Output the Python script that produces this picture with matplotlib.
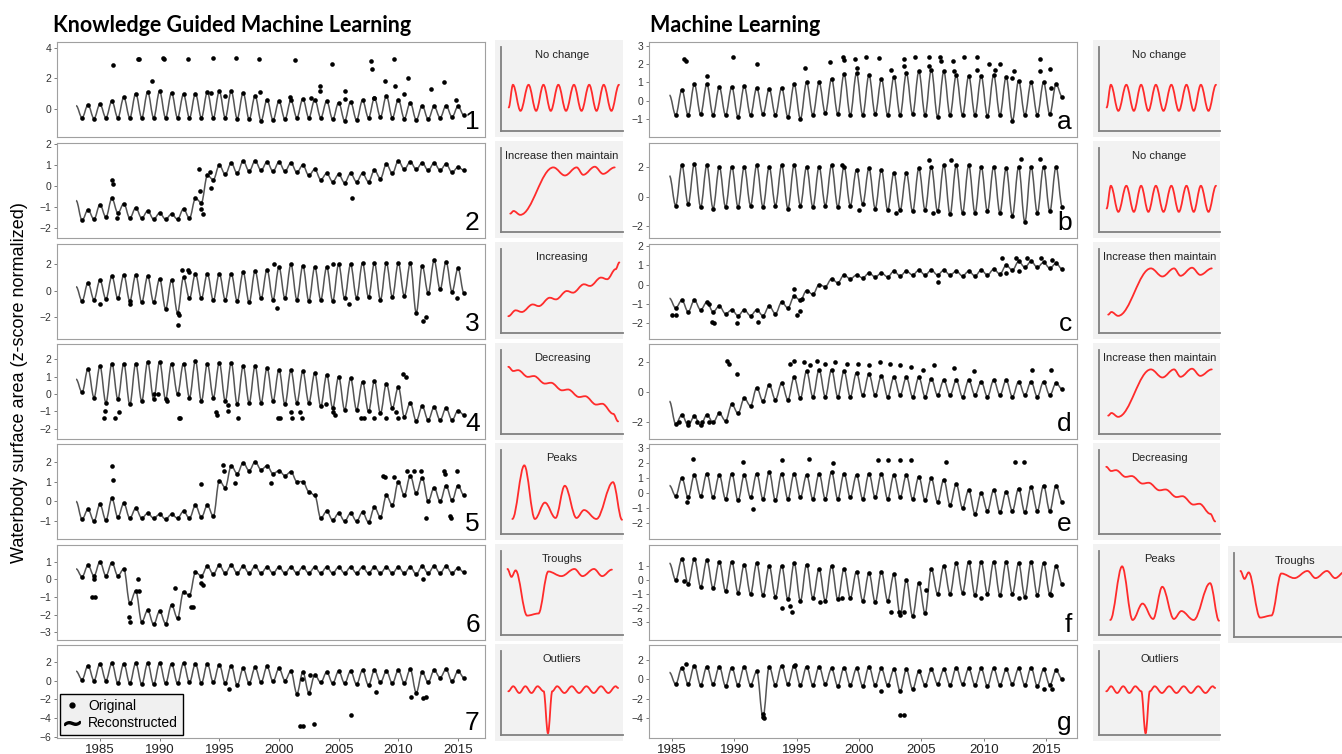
import numpy as np
import matplotlib
matplotlib.use('Agg')
import matplotlib.pyplot as plt
from matplotlib.path import Path
from matplotlib.patches import PathPatch
from matplotlib.lines import Line2D

plt.rcParams['font.family'] = ['Liberation Sans', 'DejaVu Sans']

# ---- data: seasonal highs / lows per year, plus extra observations ----
# left column (knowledge guided): highs at 1983.0 + k, lows at 1983.5 + k
hi_1 = [0.2, 0.25, 0.3, 0.5, 0.75, 1.0, 1.1, 1.15, 1.05, 0.95, 1.0, 1.1, 1.15, 1.15, 1.05, 0.85, 0.6,
        0.5, 0.55, 0.65, 0.6, 0.5, 0.4, 0.45, 0.55, 0.7, 0.85, 0.6, 0.4, 0.2, 0.15, 0.2, 0.15]
lo_1 = [-0.6, -0.65, -0.6, -0.6, -0.6, -0.6, -0.6, -0.6, -0.6, -0.6, -0.6, -0.6, -0.6, -0.65, -0.7, -0.8,
        -0.75, -0.7, -0.6, -0.6, -0.6, -0.7, -0.8, -0.75, -0.6, -0.55, -0.6, -0.65, -0.75, -0.7, -0.6, -0.55, -0.45]
out_1 = [(1986.1, 2.85), (1988.2, 3.3), (1988.3, 3.25), (1989.4, 1.8), (1990.3, 3.35), (1990.4, 3.3),
         (1992.4, 3.25), (1994.5, 3.35), (1996.4, 3.35), (1998.3, 3.3), (2001.3, 3.2), (2003.4, 1.5),
         (2003.4, 1.15), (2004.4, 2.95), (2005.5, 1.15), (2005.5, 0.65), (2007.7, 3.15), (2007.8, 2.6),
         (2008.9, 1.85), (2009.6, 3.3), (2009.7, 1.5), (2010.8, 2.05), (2012.7, 1.3), (2013.8, 1.75),
         (2014.8, 0.6), (1994.3, 1.05), (1995.5, 0.85), (1998.4, 1.1), (2000.9, 0.8), (2002.7, 0.7),
         (2008.0, 0.7), (2010.5, 1.0)]

hi_2 = [-0.7, -1.15, -0.9, -0.6, -0.85, -1.05, -1.2, -1.3, -1.35, -1.1, -0.6, 0.5, 1.0, 1.1, 1.2, 1.2, 1.15,
        1.15, 1.1, 1.0, 0.8, 0.6, 0.55, 0.6, 0.6, 0.75, 1.05, 1.2, 1.15, 1.1, 1.1, 1.05, 0.9]
lo_2 = [-1.65, -1.6, -1.5, -1.3, -1.55, -1.55, -1.6, -1.6, -1.6, -1.55, -0.8, 0.3, 0.55, 0.6, 0.7, 0.75, 0.7,
        0.7, 0.65, 0.5, 0.3, 0.2, 0.15, 0.2, 0.2, 0.35, 0.6, 0.8, 0.8, 0.75, 0.75, 0.65, 0.75]
out_2 = [(1986.0, 0.3), (1986.1, 0.1), (1986.4, -1.55), (1993.3, 0.8), (1993.4, -0.25), (1993.5, -1.1),
         (1993.6, -1.35), (1994.2, 0.65), (1994.3, -0.1), (2006.1, -0.6)]

hi_3 = [0.3, 0.6, 0.8, 1.1, 1.2, 1.2, 1.1, 0.9, 0.8, 1.0, 1.3, 1.3, 1.3, 1.3, 1.4, 1.5, 1.6, 1.8, 2.0,
        1.9, 1.8, 1.8, 2.0, 2.0, 2.1, 2.1, 2.1, 2.1, 2.1, 1.9, 2.3, 2.2, 1.7]
lo_3 = [-0.8, -0.7, -0.65, -0.6, -0.8, -0.9, -0.9, -1.4, -1.7, -0.6, -0.6, -0.75, -0.7, -0.8, -0.9, -0.6,
        -0.7, -0.6, -0.7, -0.8, -0.7, -0.8, -0.6, -0.55, -0.5, -0.7, -0.5, -0.4, -1.7, -0.2, 0.1, -0.1, -0.2]
out_3 = [(1991.5, -2.6), (1991.6, -1.9), (1991.9, 1.6), (1992.4, 1.6), (1992.5, 1.4), (2012.1, -2.3),
         (2012.3, -2.0), (2014.9, -0.6), (1999.8, -1.3), (1999.6, 2.05), (2004.5, 2.0), (1985.0, -1.0),
         (1987.5, -1.05), (2005.9, -1.0)]

hi_4 = [0.85, 1.45, 1.6, 1.75, 1.75, 1.75, 1.85, 1.85, 1.75, 1.75, 1.9, 1.75, 1.8, 1.8, 1.6, 1.6, 1.5,
        1.4, 1.35, 1.3, 1.2, 1.1, 1.0, 0.9, 0.7, 0.75, 0.6, 0.4, -0.5, -0.7, -0.75, -0.8, -0.95]
lo_4 = [0.1, -0.2, -0.5, -0.3, -0.6, -0.4, -0.3, -0.3, 0.0, -0.2, -0.4, -0.2, -0.4, -0.6, -0.5, -0.5,
        -0.4, -0.6, -0.5, -0.5, -0.7, -0.8, -0.9, -0.9, -1.0, -1.1, -0.8, -1.3, -1.55, -1.5, -1.5, -1.5, -1.2]
out_4 = [(1985.3, -1.38), (1985.4, -1.0), (1986.3, -1.38), (1986.6, -1.05), (1991.6, -1.38), (1991.7, -1.38),
         (1994.7, -1.05), (1994.8, -1.18), (1995.7, -0.65), (1995.7, -0.98), (1996.6, -1.38), (1999.9, -1.38),
         (2000.1, -1.38), (2001.0, -1.05), (2001.1, -1.38), (2001.8, -1.05), (2001.9, -1.38), (2004.5, -1.05),
         (2004.7, -1.18), (2006.9, -1.38), (2007.1, -1.38), (2008.0, -1.38), (2009.0, -1.38), (2009.8, -1.05),
         (2010.0, -1.38), (2010.4, 1.15), (2010.6, 1.0), (2003.9, -0.55), (1990.6, -0.4), (1989.5, 0.0),
         (1989.9, 0.0)]

hi_5 = [0.0, -0.4, -0.15, 0.15, -0.1, -0.35, -0.6, -0.65, -0.65, -0.5, -0.2, -0.2, 1.05, 1.8, 1.95, 2.0,
        1.8, 1.55, 1.5, 1.0, 0.3, -0.5, -0.6, -0.6, -0.55, -0.3, 0.3, 1.0, 1.3, 1.2, 0.7, 0.8, 0.8]
lo_5 = [-0.9, -1.0, -0.95, -0.8, -0.85, -0.85, -0.85, -0.9, -0.85, -0.85, -0.8, -0.75, 0.7, 1.4, 1.55, 1.6,
        1.4, 1.3, 1.0, 0.5, -0.85, -0.95, -1.0, -1.0, -1.05, -0.8, -0.2, 0.3, 0.4, 0.0, 0.0, 0.05, 0.3]
out_5 = [(1986.0, 1.78), (1986.1, 1.1), (1993.5, 0.9), (1995.3, 1.85), (1995.4, 1.55), (2008.7, 1.3),
         (2008.9, 1.25), (2009.6, 1.25), (2010.7, 1.55), (2011.3, 1.55), (2011.9, 1.55), (2012.3, -0.83),
         (2013.8, 1.55), (2013.9, 1.4), (2014.3, -0.75), (2014.4, -0.83), (2014.9, 1.55), (1996.3, 0.95),
         (1999.3, 0.95)]

hi_6 = [0.6, 0.8, 1.0, 0.95, 0.6, -0.65, -1.75, -1.8, -1.45, -0.7, 0.4, 0.75, 0.8, 0.8, 0.75, 0.75, 0.7,
        0.7, 0.7, 0.7, 0.7, 0.7, 0.7, 0.7, 0.7, 0.7, 0.7, 0.7, 0.7, 0.75, 0.75, 0.75, 0.65]
lo_6 = [0.15, 0.2, 0.2, 0.2, -1.35, -2.4, -2.55, -2.5, -2.2, -0.9, 0.2, 0.3, 0.35, 0.35, 0.35, 0.35, 0.35,
        0.35, 0.35, 0.35, 0.35, 0.35, 0.35, 0.35, 0.35, 0.35, 0.35, 0.35, 0.3, 0.35, 0.35, 0.35, 0.4]
out_6 = [(1984.3, -1.0), (1984.6, -1.0), (1987.4, -2.15), (1987.5, -2.4), (1988.2, 0.0), (1988.3, -0.65),
         (1991.3, -0.5), (1992.6, -1.55), (1992.8, -1.55), (1993.5, -0.2), (1993.6, -0.3), (2012.1, 0.05),
         (1984.5, 0.0)]

hi_7 = [1.0, 1.6, 1.8, 1.85, 1.8, 1.85, 1.85, 1.85, 1.8, 1.85, 1.8, 1.8, 1.7, 1.6, 1.3, 1.4, 1.5, 1.3,
        1.0, 0.9, 0.6, 0.9, 1.0, 1.0, 1.1, 1.1, 1.0, 1.1, 1.2, 0.9, 1.1, 1.2, 1.0]
lo_7 = [0.1, 0.0, 0.0, -0.3, -0.3, -0.4, -0.4, -0.3, -0.3, -0.2, -0.3, -0.2, -0.3, -0.5, -0.3, -0.2, -0.1,
        0.0, -1.4, -1.3, -0.2, -0.3, -0.3, -0.4, -0.5, -0.2, -0.3, -0.3, -1.3, -0.2, 0.3, -0.1, 0.3]
out_7 = [(2001.8, -4.85), (2002.0, -4.85), (2002.9, -4.6), (2006.0, -3.7), (2008.1, -1.2), (2011.1, -1.75),
         (2012.1, -1.9), (2012.3, -1.8), (1995.8, -0.9), (2002.6, 0.55), (2001.9, 0.2)]

# right column (machine learning): highs at 1984.8 + k, lows at 1985.3 + k
hi_a = [0.3, 0.6, 0.9, 0.9, 0.75, 0.75, 0.8, 0.7, 0.65, 0.7, 0.9, 1.0, 1.0, 1.2, 1.45, 1.5, 1.4, 1.2,
        1.3, 1.5, 1.6, 1.7, 1.6, 1.4, 1.35, 1.35, 1.4, 1.3, 1.1, 1.0, 1.0, 0.9]
lo_a = [-0.8, -0.8, -0.75, -0.8, -0.8, -0.9, -0.8, -0.75, -0.8, -0.9, -1.0, -0.8, -0.7, -0.75, -0.8, -0.8,
        -0.75, -0.8, -0.8, -0.75, -0.8, -0.9, -0.8, -0.8, -0.8, -0.85, -0.8, -1.1, -0.8, -0.8, -0.75, 0.2]
out_a = [(1986.0, 2.3), (1986.1, 2.15), (1987.8, 1.35), (1989.9, 2.4), (1991.8, 2.0), (1995.7, 1.8),
         (1997.7, 2.1), (1998.7, 2.4), (1998.8, 2.25), (1999.7, 2.3), (1999.8, 1.8), (2000.6, 2.4),
         (2001.6, 2.35), (2002.6, 1.7), (2003.6, 2.3), (2003.6, 1.9), (2004.5, 2.4), (2005.6, 2.4),
         (2005.6, 1.9), (2006.5, 2.4), (2006.6, 2.15), (2007.5, 2.15), (2007.6, 1.6), (2008.4, 2.4),
         (2009.5, 2.4), (2009.5, 1.7), (2010.4, 2.0), (2010.9, 1.7), (2011.3, 2.0), (2012.4, 1.6),
         (2012.3, 1.25), (2014.5, 2.3), (2014.5, 1.6), (2015.3, 1.75), (2015.4, 0.7)]

hi_b = [1.4, 2.1, 2.2, 2.1, 2.0, 2.0, 2.0, 2.1, 2.0, 2.1, 2.1, 2.0, 2.0, 2.1, 2.0, 1.8, 1.9, 1.8, 1.6,
        1.6, 1.9, 2.0, 2.1, 2.1, 2.1, 2.0, 2.0, 1.9, 2.0, 2.0, 2.0, 2.0]
lo_b = [-0.6, -0.5, -0.7, -0.8, -0.7, -0.7, -0.6, -0.7, -0.6, -0.8, -0.6, -0.7, -0.6, -0.7, -0.6, -0.5,
        -0.8, -0.9, -0.9, -1.0, -0.9, -1.0, -1.2, -1.1, -1.1, -1.0, -1.1, -1.3, -1.7, -1.1, -1.0, -0.7]
out_b = [(2005.6, 2.45), (2007.4, 2.45), (2013.0, 2.55), (2014.5, 2.55), (2003.0, -1.1), (2000.0, -0.9),
         (2005.9, -1.1), (1998.6, 2.1)]

hi_c = [-0.7, -0.8, -0.8, -0.9, -1.1, -1.3, -1.3, -1.3, -1.1, -0.9, -0.6, -0.3, 0.0, 0.3, 0.5, 0.5, 0.6,
        0.6, 0.7, 0.7, 0.75, 0.75, 0.75, 0.7, 0.7, 0.75, 0.8, 1.0, 1.2, 1.2, 1.15, 1.1]
lo_c = [-1.2, -1.4, -1.3, -1.4, -1.5, -1.6, -1.6, -1.6, -1.5, -1.2, -0.8, -0.5, -0.1, 0.1, 0.3, 0.35, 0.4,
        0.4, 0.45, 0.5, 0.5, 0.5, 0.5, 0.45, 0.45, 0.5, 0.55, 0.75, 0.9, 0.9, 0.85, 0.8]
out_c = [(1985.0, -1.55), (1985.3, -1.55), (1988.2, -1.9), (1988.4, -2.0), (1988.0, -1.0), (1990.2, -2.0),
         (1991.9, -1.9), (1994.8, -0.2), (1995.0, -1.55), (1995.3, -1.35), (1995.4, -0.75), (2011.5, 1.4),
         (2012.6, 1.4), (2013.5, 1.4), (2014.6, 1.4), (2015.5, 1.3), (2011.8, 0.6), (2012.8, 0.7),
         (2006.3, 0.15)]

hi_d = [-0.6, -1.5, -1.6, -1.5, -1.4, -0.8, -0.4, 0.3, 0.5, 0.6, 1.0, 1.4, 1.5, 1.5, 1.4, 1.3, 1.2, 1.1,
        1.0, 1.0, 1.0, 0.9, 0.8, 0.8, 0.8, 0.7, 0.8, 0.8, 0.7, 0.7, 0.7, 0.6]
lo_d = [-2.1, -2.2, -2.2, -2.0, -1.9, -1.4, -0.9, -0.6, -0.5, -0.5, -0.4, -0.3, -0.3, -0.3, -0.3, -0.2,
        -0.2, -0.3, -0.2, -0.3, -0.3, -0.2, -0.2, -0.3, -0.2, -0.3, -0.2, -0.3, -0.2, -0.3, -0.2, 0.2]
out_d = [(1985.6, -2.0), (1986.3, -2.0), (1987.0, -2.0), (1987.4, -2.0), (1988.0, -2.0), (1989.4, 2.1),
         (1989.6, 1.9), (1990.2, 1.2), (1994.5, 1.9), (1994.8, 2.1), (1995.6, 2.0), (1996.1, 1.8),
         (1996.6, 2.1), (1997.3, 1.9), (1998.1, 2.0), (1999.0, 1.9), (1999.9, 1.9), (2000.8, 1.8),
         (2001.7, 2.0), (2002.5, 1.9), (2003.3, 1.8), (2004.2, 1.7), (2005.1, 1.5), (2006.0, 1.8),
         (2007.6, 1.6), (2009.2, 1.4), (2013.9, 1.5), (2015.4, 1.5)]

hi_e = [0.5, 1.0, 1.2, 1.3, 1.2, 1.3, 1.2, 1.3, 1.4, 1.3, 1.3, 1.2, 1.3, 1.4, 1.3, 1.2, 1.3, 1.3, 1.2,
        1.2, 1.1, 1.0, 0.9, 0.6, 0.2, 0.0, 0.2, 0.1, 0.3, 0.4, 0.5, 0.5]
lo_e = [-0.2, -0.3, -0.2, -0.3, -0.4, -0.5, -0.3, -0.4, -0.5, -0.4, -0.3, -0.4, -0.4, -0.4, -0.3, -0.4,
        -0.3, -0.4, -0.3, -0.4, -0.5, -0.6, -0.8, -1.0, -1.4, -1.2, -1.3, -1.2, -1.3, -1.2, -1.2, -0.6]
out_e = [(1986.7, 2.3), (1990.7, 2.1), (1991.5, -1.1), (1993.8, 2.2), (1996.0, 2.3), (1997.9, 2.0),
         (2001.5, 2.2), (2002.3, 2.2), (2003.3, 2.2), (2004.2, 2.2), (2007.0, 2.1), (2012.5, 2.1),
         (2013.2, 2.1), (1986.2, -0.6)]

hi_f = [1.2, 1.5, 1.5, 1.4, 1.3, 1.3, 1.1, 1.2, 1.0, 1.0, 1.2, 1.1, 0.8, 1.0, 0.8, 0.6, 0.5, 0.6, 0.4,
        0.0, -0.2, 0.8, 1.0, 1.2, 1.3, 1.3, 1.3, 1.3, 1.2, 1.3, 1.2, 1.0]
lo_f = [0.0, -0.3, -0.5, -0.6, -0.8, -0.9, -1.0, -1.1, -1.2, -1.4, -1.5, -1.3, -1.5, -1.4, -1.3, -1.5,
        -1.6, -1.5, -2.5, -2.6, -2.4, -1.0, -1.0, -0.9, -1.1, -1.0, -1.1, -1.0, -1.2, -1.1, -1.0, -0.3]
out_f = [(1986.0, -0.1), (1993.8, -2.0), (1994.5, -1.9), (1994.6, -2.3), (2002.6, -2.3), (2003.2, -2.3),
         (2003.6, -2.3), (2005.4, -0.7), (2009.8, -1.3), (2012.8, -1.3), (2015.4, -1.1), (1996.9, -1.6),
         (1998.6, -1.3)]

hi_g = [0.7, 1.2, 1.4, 1.3, 1.3, 1.2, 1.3, 0.8, 1.3, 1.4, 1.4, 1.3, 1.3, 1.1, 1.2, 1.1, 1.3, 1.1, 1.0,
        1.0, 0.8, 1.0, 1.0, 1.2, 1.1, 1.1, 1.1, 1.0, 1.1, 1.2, 1.0, 0.9]
lo_g = [-0.5, -0.5, -0.6, -0.5, -0.7, -0.6, -0.6, -3.9, -0.6, -0.5, -0.6, -0.6, -0.5, -0.7, -0.6, -0.7,
        -0.6, -0.6, -1.2, -1.0, -0.6, -0.5, -0.6, -0.5, -0.6, -0.7, -0.6, -0.5, -0.6, -0.7, -0.6, 0.0]
out_g = [(1992.3, -3.5), (1992.4, -4.0), (2003.3, -3.7), (2003.6, -3.7), (1986.1, 1.6), (1994.9, 1.5),
         (2014.8, -1.0), (2015.5, -1.0), (2001.8, -1.2)]

# pattern icons (0-100 box units)
nochange_x = [6.3, 9.8, 16.0, 22.6, 28.8, 34.8, 40.8, 47.0, 53.3, 59.8, 66.0, 72.3, 78.3, 84.2, 90.5, 96.7]
nochange_y = [28, 55, 24, 55, 24, 55, 24, 55, 24, 55, 24, 55, 24, 55, 24, 55]
incmaint_x = [7.6, 10.3, 15.8, 42.9, 52.4, 62.0, 67.4, 76.9, 83.7, 93.2]
incmaint_y = [21.9, 25.0, 20.4, 76.9, 67.3, 76.9, 68.1, 77.7, 69.2, 76.9]
increasing_x = [6, 12, 17, 26, 31, 40, 45, 54, 59, 68, 73, 82, 87, 94, 97]
increasing_y = [20, 27, 25, 34, 32, 42, 40, 50, 48, 58, 56, 66, 64, 76, 84]
decreasing_x = [6, 10, 14, 22, 27, 36, 41, 50, 55, 64, 69, 78, 83, 92, 96]
decreasing_y = [80, 75, 76, 68, 69, 60, 61, 52, 53, 44, 45, 35, 36, 24, 15]
peaks_x = [9.3, 19.1, 27.8, 36.0, 44.7, 52.3, 61.9, 68.1, 78.2, 91.8, 99.2]
peaks_y = [17.9, 81.7, 17.9, 37.4, 19.1, 57.4, 19.1, 28.5, 17.9, 61.7, 17.0]
troughs_x = [5.3, 8.6, 12.0, 21.4, 30.7, 38.8, 49.5, 60.2, 66.8, 76.2, 82.9, 90.9]
troughs_y = [78.6, 69.2, 76.9, 23.1, 25.6, 75.6, 70.1, 78.6, 70.1, 78.6, 70.1, 77.8]
outliers_x = [6, 10, 15, 20, 25, 30, 35, 38.5, 42, 46, 52, 58, 64, 70, 76, 82, 88, 94, 96]
outliers_y = [52, 58, 50, 58, 50, 58, 52, 2, 52, 58, 50, 58, 50, 58, 50, 58, 50, 58, 56]

W, H = 1342, 754
fig = plt.figure(figsize=(W / 100, H / 100), dpi=100)


def px(x0, y0, x1, y1):
    return [x0 / W, 1 - y1 / H, (x1 - x0) / W, (y1 - y0) / H]


def smooth(ax, x, y, **kw):
    # cubic bezier through the given vertices, flat at each vertex
    verts = [(x[0], y[0])]
    codes = [Path.MOVETO]
    for xa, ya, xb, yb in zip(x[:-1], y[:-1], x[1:], y[1:]):
        d = 0.36 * (xb - xa)
        verts += [(xa + d, ya), (xb - d, yb), (xb, yb)]
        codes += [Path.CURVE4] * 3
    ax.add_patch(PathPatch(Path(verts, codes), fill=False, **kw))


def panel(box, t0, hi, lo, out, ylim, yticks, label, xlim, bottom):
    ax = fig.add_axes(px(*box))
    vals = np.column_stack([hi, lo]).ravel()
    t = t0 + 0.5 * np.arange(len(vals))
    smooth(ax, t, vals, ec='#555555', lw=1.1)
    ax.scatter(t[1:], vals[1:], s=11, c='k', lw=0, zorder=3)
    ox, oy = zip(*out)
    ax.scatter(ox, oy, s=11, c='k', lw=0, zorder=3)
    ax.set_xlim(*xlim)
    ax.set_ylim(*ylim)
    ax.set_yticks(yticks)
    ax.tick_params(axis='y', labelsize=7.5, length=2.5, width=0.6, color='#666666',
                   labelcolor='#333333', pad=1.5)
    if bottom:
        ax.set_xticks(range(1985, 2016, 5))
        ax.tick_params(axis='x', labelsize=9.5, length=2.5, width=0.6, color='#666666',
                       labelcolor='#222222', pad=2)
    else:
        ax.set_xticks([])
    for s in ax.spines.values():
        s.set_color('#a0a0a0')
        s.set_linewidth(0.8)
    ax.text(0.988, 0.03, label, transform=ax.transAxes, ha='right', va='bottom', fontsize=19)
    return ax


def icon(box, title, x, y):
    x0, y0, x1, y1 = box
    outer = fig.add_axes(px(x0, y0, x1, y1))
    outer.set_facecolor('#f2f2f2')
    outer.set_xticks([])
    outer.set_yticks([])
    for s in outer.spines.values():
        s.set_visible(False)
    inner = fig.add_axes(px(x0 + 6, y0 + 7, x1, y1 - 6))
    inner.patch.set_alpha(0)
    inner.set_xlim(0, 100)
    inner.set_ylim(0, 100)
    inner.set_xticks([])
    inner.set_yticks([])
    inner.spines['top'].set_visible(False)
    inner.spines['right'].set_visible(False)
    for s in ('left', 'bottom'):
        inner.spines[s].set_color('#808080')
        inner.spines[s].set_linewidth(1.3)
    smooth(inner, x, y, ec='#ff2b2b', lw=1.3, capstyle='round')
    inner.text(50, 90, title, ha='center', va='center', fontsize=8, color='#222222')


rows = [(42, 137), (143, 238), (244, 339), (344, 439), (444, 539), (545, 640), (645, 738)]
irows = [(40, 137), (141, 238), (242, 339), (343, 440), (443, 540), (544, 641), (644, 741)]

left = [(hi_1, lo_1, out_1, (-1.87, 4.4), [0, 2, 4], '1'),
        (hi_2, lo_2, out_2, (-2.5, 2.06), [-2, -1, 0, 1, 2], '2'),
        (hi_3, lo_3, out_3, (-3.7, 3.56), [-2, 0, 2], '3'),
        (hi_4, lo_4, out_4, (-2.58, 2.87), [-2, -1, 0, 1, 2], '4'),
        (hi_5, lo_5, out_5, (-1.9, 2.9), [-1, 0, 1, 2], '5'),
        (hi_6, lo_6, out_6, (-3.43, 1.95), [-3, -2, -1, 0, 1], '6'),
        (hi_7, lo_7, out_7, (-6.15, 3.8), [-6, -4, -2, 0, 2], '7')]
right = [(hi_a, lo_a, out_a, (-2.0, 3.22), [-1, 0, 1, 2, 3], 'a'),
         (hi_b, lo_b, out_b, (-2.78, 3.6), [-2, 0, 2], 'b'),
         (hi_c, lo_c, out_c, (-2.8, 2.1), [-2, -1, 0, 1, 2], 'c'),
         (hi_d, lo_d, out_d, (-3.1, 3.2), [-2, 0, 2], 'd'),
         (hi_e, lo_e, out_e, (-3.07, 3.27), [-2, -1, 0, 1, 2, 3], 'e'),
         (hi_f, lo_f, out_f, (-4.3, 2.5), [-3, -2, -1, 0, 1], 'f'),
         (hi_g, lo_g, out_g, (-6.0, 3.5), [-4, -2, 0, 2], 'g')]

for i, (hi, lo, out, yl, yt, lab) in enumerate(left):
    ax = panel((57, rows[i][0], 485, rows[i][1]), 1983.0, hi, lo, out, yl, yt, lab,
               (1981.4, 2017.26), i == 6)
    if i == 6:
        handles = [Line2D([], [], ls='none', marker='o', ms=3.5, color='k'),
                   Line2D([], [], ls='none', marker='$\\sim$', ms=11, color='k')]
        ax.legend(handles, ['Original', 'Reconstructed'], loc='lower left', fontsize=10,
                  fancybox=False, edgecolor='k', facecolor='#f0f0f0', framealpha=1,
                  borderaxespad=0.2, handlelength=1.0, handletextpad=0.7, labelspacing=0.25,
                  borderpad=0.35).get_frame().set_linewidth(1.0)

for i, (hi, lo, out, yl, yt, lab) in enumerate(right):
    panel((649, rows[i][0], 1077, rows[i][1]), 1984.8, hi, lo, out, yl, yt, lab,
          (1983.16, 2017.48), i == 6)

shapes = {'No change': (nochange_x, nochange_y),
          'Increase then maintain': (incmaint_x, incmaint_y),
          'Increasing': (increasing_x, increasing_y),
          'Decreasing': (decreasing_x, decreasing_y),
          'Peaks': (peaks_x, peaks_y),
          'Troughs': (troughs_x, troughs_y),
          'Outliers': (outliers_x, outliers_y)}
left_icons = ['No change', 'Increase then maintain', 'Increasing', 'Decreasing', 'Peaks', 'Troughs', 'Outliers']
right_icons = ['No change', 'No change', 'Increase then maintain', 'Increase then maintain',
               'Decreasing', 'Peaks', 'Outliers']
for i, name in enumerate(left_icons):
    icon((495, irows[i][0], 623, irows[i][1]), name, *shapes[name])
for i, name in enumerate(right_icons):
    icon((1093, irows[i][0], 1220, irows[i][1]), name, *shapes[name])
icon((1228, 546, 1356, 643), 'Troughs', *shapes['Troughs'])

fig.text(53 / W, 1 - 26 / H, 'Knowledge Guided Machine Learning', fontsize=15.5, fontweight='bold',
         family=['Lato', 'DejaVu Sans'], va='center', ha='left')
fig.text(650 / W, 1 - 26 / H, 'Machine Learning', fontsize=15.5, fontweight='bold',
         family=['Lato', 'DejaVu Sans'], va='center', ha='left')
fig.text(20 / W, 1 - 383 / H, 'Waterbody surface area (z-score normalized)', rotation=90,
         fontsize=13, va='center', ha='center')

fig.savefig('out.png', dpi=100)
